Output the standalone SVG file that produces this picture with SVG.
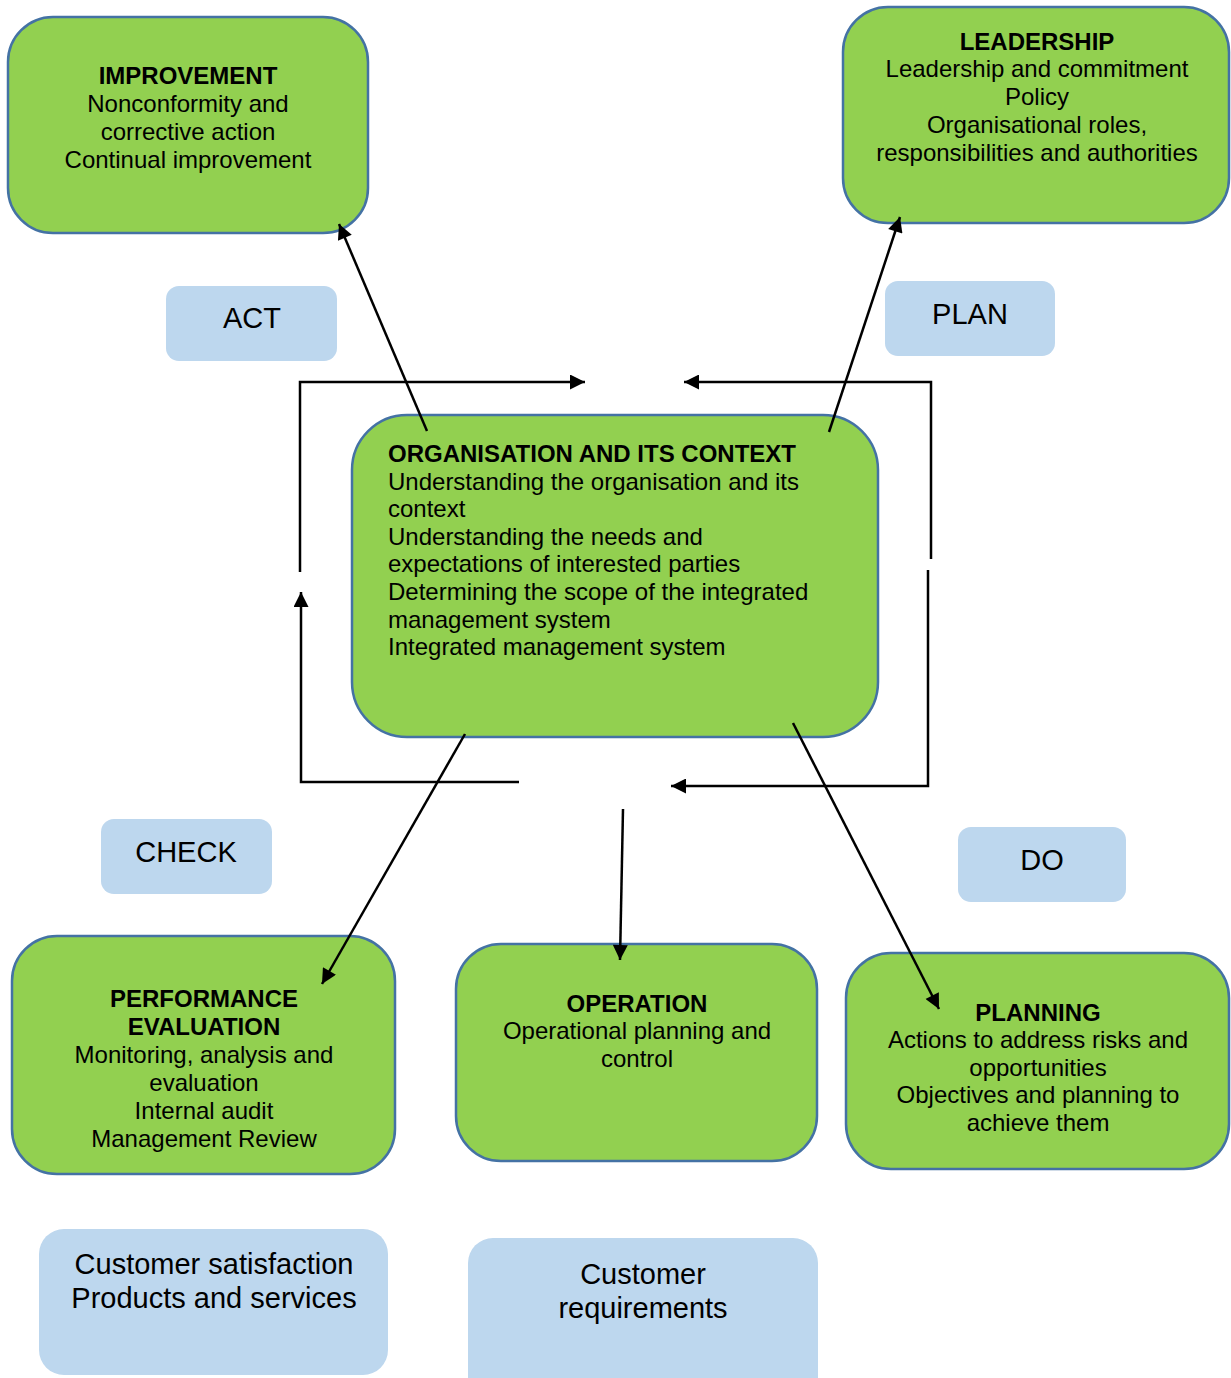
<svg xmlns="http://www.w3.org/2000/svg" width="1231" height="1378" viewBox="0 0 1231 1378">
<defs>
<style>
.g{fill:#92D050;stroke:#4472A4;stroke-width:2.5}
.b{fill:#BDD7EE;stroke:none}
text{font-family:"Liberation Sans",Arial,sans-serif;fill:#000}
.t{font-size:24px;text-anchor:middle}
.h{font-weight:bold}
.l{font-size:29px;text-anchor:middle}
.c{font-size:24px}
.ln{fill:none;stroke:#000;stroke-width:2.5}
</style>
<marker id="ah" viewBox="0 0 10 10" refX="10" refY="5" markerWidth="6.5" markerHeight="6" markerUnits="strokeWidth" orient="auto">
<path d="M0,0 L10,5 L0,10 Z" fill="#000"/>
</marker>
</defs>
<rect width="1231" height="1378" fill="#fff"/>

<g id="improvement">
<rect class="g" x="8" y="17" width="360" height="216" rx="45"/>
<text class="t h" x="188" y="84">IMPROVEMENT</text>
<text class="t" x="188" y="112">Nonconformity and</text>
<text class="t" x="188" y="140">corrective action</text>
<text class="t" x="188" y="168">Continual improvement</text>
</g>

<g id="leadership">
<rect class="g" x="843" y="7" width="386" height="216" rx="45"/>
<text class="t h" x="1037" y="50">LEADERSHIP</text>
<text class="t" x="1037" y="77">Leadership and commitment</text>
<text class="t" x="1037" y="105">Policy</text>
<text class="t" x="1037" y="133">Organisational roles,</text>
<text class="t" x="1037" y="161">responsibilities and authorities</text>
</g>

<g id="act"><rect class="b" x="166" y="286" width="171" height="75" rx="13"/><text class="l" x="252" y="328">ACT</text></g>
<g id="plan"><rect class="b" x="885" y="281" width="170" height="75" rx="13"/><text class="l" x="970" y="324">PLAN</text></g>
<g id="check"><rect class="b" x="101" y="819" width="171" height="75" rx="13"/><text class="l" x="186" y="862">CHECK</text></g>
<g id="do"><rect class="b" x="958" y="827" width="168" height="75" rx="13"/><text class="l" x="1042" y="870">DO</text></g>

<g id="context">
<rect class="g" x="352" y="415" width="526" height="322" rx="55"/>
<text class="c h" x="388" y="462">ORGANISATION AND ITS CONTEXT</text>
<text class="c" x="388" y="490">Understanding the organisation and its</text>
<text class="c" x="388" y="517">context</text>
<text class="c" x="388" y="545">Understanding the needs and</text>
<text class="c" x="388" y="572">expectations of interested parties</text>
<text class="c" x="388" y="600">Determining the scope of the integrated</text>
<text class="c" x="388" y="628">management system</text>
<text class="c" x="388" y="655">Integrated management system</text>
</g>

<g id="performance">
<rect class="g" x="12" y="936" width="383" height="238" rx="45"/>
<text class="t h" x="204" y="1007">PERFORMANCE</text>
<text class="t h" x="204" y="1035">EVALUATION</text>
<text class="t" x="204" y="1063">Monitoring, analysis and</text>
<text class="t" x="204" y="1091">evaluation</text>
<text class="t" x="204" y="1119">Internal audit</text>
<text class="t" x="204" y="1147">Management Review</text>
</g>

<g id="operation">
<rect class="g" x="456" y="944" width="361" height="217" rx="45"/>
<text class="t h" x="637" y="1012">OPERATION</text>
<text class="t" x="637" y="1039">Operational planning and</text>
<text class="t" x="637" y="1067">control</text>
</g>

<g id="planning">
<rect class="g" x="846" y="953" width="383" height="216" rx="45"/>
<text class="t h" x="1038" y="1021">PLANNING</text>
<text class="t" x="1038" y="1048">Actions to address risks and</text>
<text class="t" x="1038" y="1076">opportunities</text>
<text class="t" x="1038" y="1103">Objectives and planning to</text>
<text class="t" x="1038" y="1131">achieve them</text>
</g>

<g id="customer-satisfaction">
<rect class="b" x="39" y="1229" width="349" height="146" rx="25"/>
<text class="l" x="214" y="1274">Customer satisfaction</text>
<text class="l" x="214" y="1308">Products and services</text>
</g>

<g id="customer-requirements">
<rect class="b" x="468" y="1238" width="350" height="170" rx="25"/>
<text class="l" x="643" y="1284">Customer</text>
<text class="l" x="643" y="1318">requirements</text>
</g>

<g id="connectors">
<path class="ln" d="M300,572 V382 H585" marker-end="url(#ah)"/>
<path class="ln" d="M931,559 V382 H684" marker-end="url(#ah)"/>
<path class="ln" d="M519,782 H301 V592" marker-end="url(#ah)"/>
<path class="ln" d="M928,570 V786 H671" marker-end="url(#ah)"/>
<line class="ln" x1="427" y1="431" x2="339" y2="224" marker-end="url(#ah)"/>
<line class="ln" x1="829" y1="432" x2="900" y2="217" marker-end="url(#ah)"/>
<line class="ln" x1="465" y1="734" x2="322" y2="984" marker-end="url(#ah)"/>
<line class="ln" x1="623" y1="809" x2="620" y2="960" marker-end="url(#ah)"/>
<line class="ln" x1="793" y1="723" x2="939" y2="1009" marker-end="url(#ah)"/>
</g>
</svg>
